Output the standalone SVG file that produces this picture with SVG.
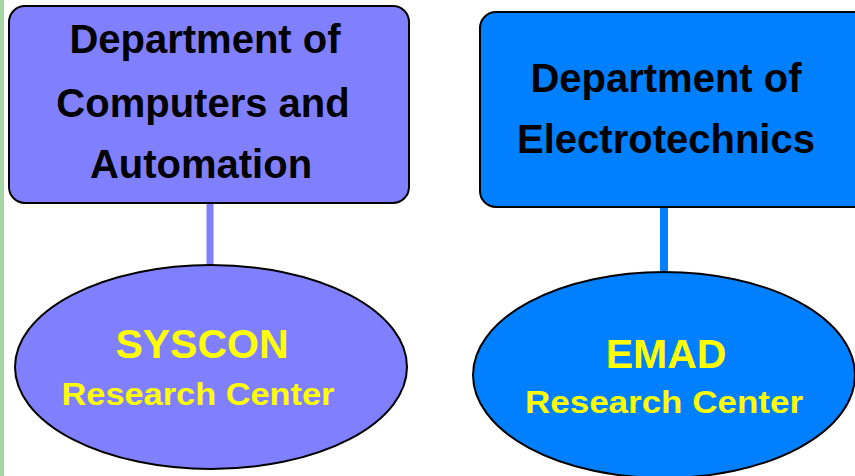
<svg xmlns="http://www.w3.org/2000/svg" width="855" height="476" viewBox="0 0 855 476">
<style>
.box{stroke:#000;stroke-width:2}
.t{font-family:"Liberation Sans",Arial,sans-serif;font-weight:bold;text-anchor:middle}
.dept{font-size:40px;fill:#000}
.rc1{font-size:41px;fill:#ffff00}
.rc2{font-size:31px;fill:#ffff00}
</style>
<rect x="0" y="0" width="855" height="476" fill="#ffffff"/>
<rect x="0" y="0" width="4" height="476" fill="#a3d6a3"/>
<g id="connectors">
<line x1="210" y1="203" x2="210" y2="266" stroke="#8080ff" stroke-width="7"/>
<line x1="664" y1="207" x2="664" y2="273" stroke="#0080ff" stroke-width="8"/>
<line x1="205" y1="6" x2="237" y2="6" stroke="#2020c0" stroke-width="2"/>
<line x1="652" y1="12" x2="660" y2="12" stroke="#2020c0" stroke-width="2"/>
</g>
<g id="dept-computers">
<rect class="box" x="9" y="6" width="400" height="197" rx="16" fill="#8080ff"/>
<text class="t dept" x="205" y="53">Department of</text>
<text class="t dept" x="203" y="117">Computers and</text>
<text class="t dept" x="201" y="178">Automation</text>
</g>
<g id="dept-electro">
<rect class="box" x="480" y="12" width="390" height="195" rx="16" fill="#0080ff"/>
<text class="t dept" x="666" y="92">Department of</text>
<text class="t dept" x="666" y="153">Electrotechnics</text>
</g>
<g id="syscon">
<ellipse class="box" cx="211" cy="367" rx="196" ry="102" fill="#8080ff"/>
<text class="t rc1" x="202" y="358">SYSCON</text>
<text class="t rc2" x="198" y="405" textLength="273" lengthAdjust="spacingAndGlyphs">Research Center</text>
</g>
<g id="emad">
<ellipse class="box" cx="664" cy="375" rx="191" ry="103" fill="#0080ff"/>
<text class="t rc1" x="666" y="368">EMAD</text>
<text class="t rc2" x="664" y="413" textLength="278" lengthAdjust="spacingAndGlyphs">Research Center</text>
</g>
</svg>
